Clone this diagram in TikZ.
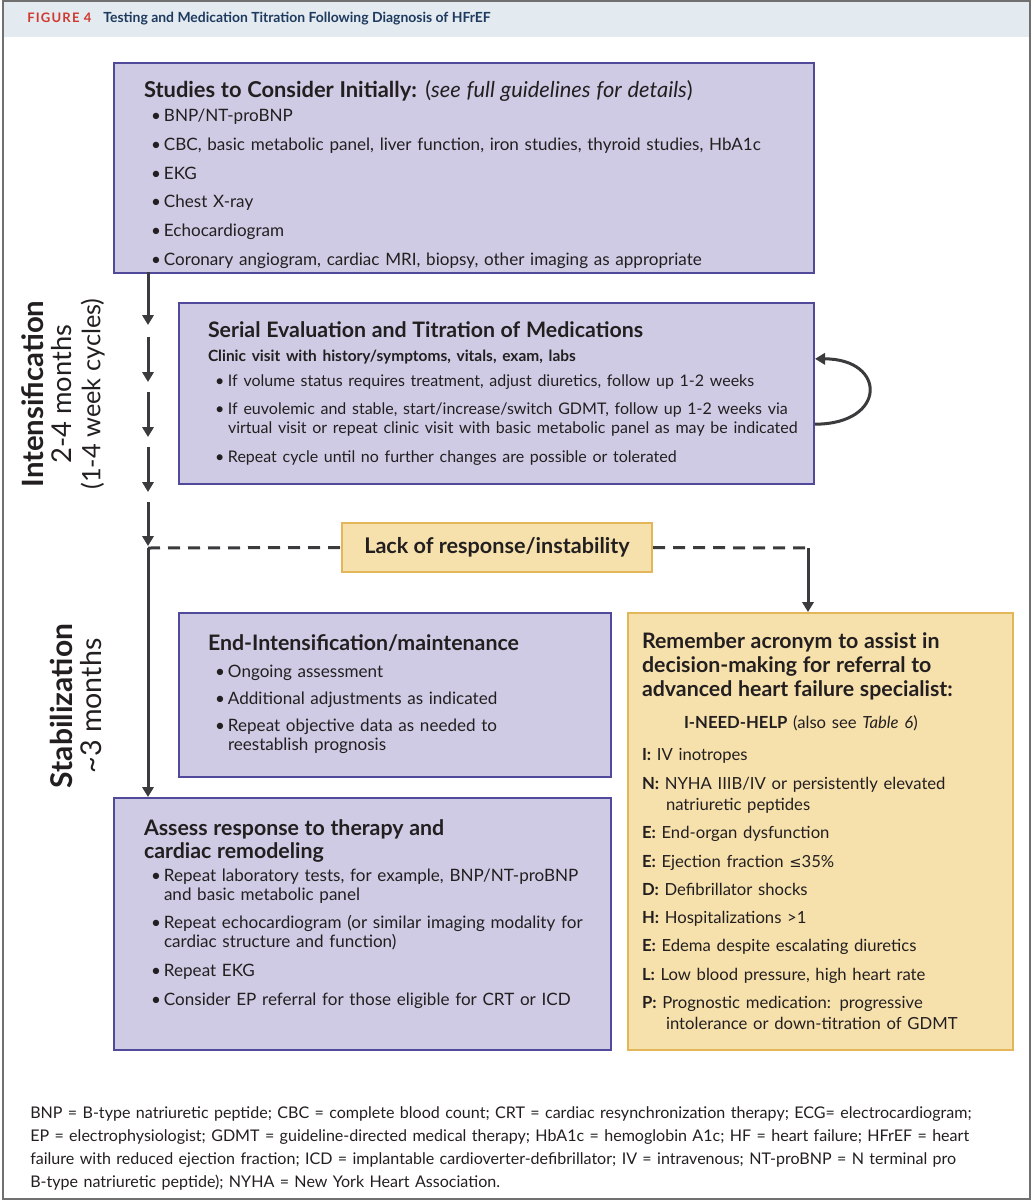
\documentclass[tikz,border=0pt]{standalone}
\usepackage{fontspec}
\setmainfont{Lato}
\newfontfamily\symfont{DejaVu Sans}
\newfontfamily\headfont[LetterSpace=9.0]{Lato}
\usetikzlibrary{arrows.meta, positioning}

\definecolor{boxpurple}{HTML}{CFCBE4}
\definecolor{edgepurple}{HTML}{51499A}
\definecolor{boxgold}{HTML}{F6E1AC}
\definecolor{edgegold}{HTML}{E3B65A}
\definecolor{arrowgray}{HTML}{3B3B3D}
\definecolor{headband}{HTML}{E3EAF0}
\definecolor{headred}{HTML}{D0392F}
\definecolor{headnavy}{HTML}{1E3A5E}
\definecolor{framegray}{HTML}{707070}
\definecolor{inkblack}{HTML}{231F20}

\newcommand{\bodysize}{\fontsize{12.8}{14.25}\selectfont}
\newcommand{\titlesize}{\fontsize{16}{18}\selectfont}
\newcommand{\boxpar}[1]{\setlength{\parindent}{0pt}\setlength{\parskip}{7.35pt}%
  \setlength{\leftskip}{#1}\rightskip=0pt plus 1fil\hyphenpenalty=10000\exhyphenpenalty=10000}
\newcommand{\bul}[1]{\par\hangindent=15pt\hangafter=1\noindent\hspace*{5.25pt}\makebox[9.75pt][l]{\textbullet}#1}
\newcommand{\acr}[2]{\par\hangindent=18pt\hangafter=1\noindent\textbf{#1:} #2}

\tikzset{
  panel/.style = {draw = edgepurple, fill = boxpurple, line width = 1.5pt, anchor = north west,
                  align = left, inner xsep = 3pt, inner ysep = 0pt, text = inkblack, font = \bodysize},
  notepanel/.style = {panel, draw = edgegold, fill = boxgold},
  flow/.style = {arrowgray, line width = 2.25pt, -{Triangle[length=7.5pt, width=8.5pt]}},
  dashline/.style = {arrowgray, line width = 2.25pt, dash pattern = on 9pt off 6pt},
  sidelabel/.style = {rotate = 90, align = center, text = inkblack, font = \fontsize{19}{21.4}\selectfont}
}

\begin{document}
\begin{tikzpicture}[x = 0.75pt, y = -0.75pt]
\useasboundingbox (0,0) rectangle (1034,1200);
% frame and heading
\fill[headband] (3,1) rectangle (1030,37);
\draw[framegray, line width = 1.5pt] (3,1) rectangle (1030,1199);
\node[anchor = west, inner sep = 0pt] (figtitle) at (27,19) {\fontsize{9.8}{11}\headfont\bfseries\color{headred}FIGURE 4\hspace{9pt}\fontsize{10.45}{12}\selectfont\color{headnavy}\addfontfeature{LetterSpace=0}Testing and Medication Titration Following Diagnosis of HFrEF};

% boxes
\node[panel, text width = 519pt, minimum height = 157.5pt] (studies) at (113,62) {\boxpar{19.5pt}%
{\fontsize{16.4}{18}\selectfont\textbf{Studies to Consider Initially:} (\textit{see full guidelines for details})\par}\vspace{-3.6pt}
\bul{BNP/NT-proBNP}
\bul{CBC, basic metabolic panel, liver function, iron studies, thyroid studies, HbA1c}
\bul{EKG}
\bul{Chest X-ray}
\bul{Echocardiogram}
\bul{Coronary angiogram, cardiac MRI, biopsy, other imaging as appropriate}\par\vspace{-10pt}};

\node[panel, text width = 470.25pt, minimum height = 135.75pt] (serial) at (178,302) {\boxpar{18.75pt}\fontsize{12.0}{14.25}\selectfont
{\titlesize\textbf{Serial Evaluation and Titration of Medications}\par}\vspace{-2.35pt}
{\fontsize{11.6}{13}\selectfont\bfseries Clinic visit with history/symptoms, vitals, exam, labs\par}\vspace{-2.85pt}
\bul{If volume status requires treatment, adjust diuretics, follow up 1-2 weeks}
\bul{If euvolemic and stable, start/increase/switch GDMT, follow up 1-2 weeks via\break virtual visit or repeat clinic visit with basic metabolic panel as may be indicated}
\bul{Repeat cycle until no further changes are possible or tolerated}\par};

\node[notepanel, anchor = center, align = center, inner xsep = 0pt, minimum width = 232.5pt, minimum height = 36.75pt,
      font = \fontsize{16.2}{18}\selectfont\bfseries] (lack) at (497,547.5) {Lack of response/instability};

\node[panel, text width = 318pt, minimum height = 123pt] (endint) at (178,612) {\boxpar{18.75pt}\setlength{\parskip}{6pt}%
{\titlesize\textbf{End-Intensification/maintenance}\par}\vspace{0pt}
\bul{Ongoing assessment}
\bul{Additional adjustments as indicated}
\bul{Repeat objective data as needed to\break reestablish prognosis}\par\vspace{2pt}};

\node[panel, text width = 366.75pt, minimum height = 189pt] (assess) at (113,797) {\boxpar{19.5pt}%
{\titlesize\baselineskip=17.25pt\textbf{Assess response to therapy and\break cardiac remodeling}\par}\vspace{-4.35pt}
\bul{Repeat laboratory tests, for example, BNP/NT-proBNP\break and basic metabolic panel}
\bul{Repeat echocardiogram (or similar imaging modality for\break cardiac structure and function)}
\bul{Repeat EKG}
\bul{Consider EP referral for those eligible for CRT or ICD}\par\vspace{15pt}};

\node[notepanel, text width = 282.75pt, minimum height = 327.75pt] (acronym) at (627,612) {\boxpar{7.5pt}\setlength{\parskip}{5.2pt}\fontsize{12.5}{16}\selectfont
{\titlesize\textbf{Remember acronym to assist in\break decision-making for referral to\break advanced heart failure specialist:}\par}\vspace{2.8pt}
\hspace*{31.5pt}\textbf{I-NEED-HELP} (also see \textit{Table 6})\par\vspace{2.8pt}
\acr{I}{IV inotropes}
\acr{N}{NYHA IIIB/IV or persistently elevated\break natriuretic peptides}
\acr{E}{End-organ dysfunction}
\acr{E}{Ejection fraction {\symfont\fontsize{11}{12}\selectfont ≤}35\%}
\acr{D}{Defibrillator shocks}
\acr{H}{Hospitalizations >1}
\acr{E}{Edema despite escalating diuretics}
\acr{L}{Low blood pressure, high heart rate}
\acr{P}{Prognostic medication: progressive\break intolerance or down-titration of GDMT}\par};

% phase labels
\node[sidelabel] (intens) at (63,394) {{\fontsize{22}{21.4}\selectfont\bfseries Intensification}\\{\fontsize{20.5}{21.4}\selectfont 2-4 months}\\(1-4 week cycles)};
\node[sidelabel] (stabil) at (76,706) {{\fontsize{22.5}{21.4}\selectfont\bfseries Stabilization}\\{\fontsize{21.5}{21.4}\selectfont\textasciitilde3 months}};

% cycle arrows down the left
\foreach \i/\a/\b in {1/272/325, 2/337/382, 3/392/437, 4/447/492, 5/502/546} {
  \coordinate (p\i) at (148,\a);
  \coordinate (q\i) at (148,\b);
  \draw[flow] (p\i) -- (q\i);
}
\coordinate (junc) at (148,548);
\coordinate (turn) at (808,548);
\draw[flow] (junc) -- (junc |- assess.north);
\draw[dashline] (junc) -- (lack.west);
\draw[dashline] (lack.east) -- (turn);
\draw[flow] (turn) -- (turn |- acronym.north);

% repeat loop
\coordinate (loopout) at ([yshift=-23pt]serial.east);
\coordinate (loopin) at ([yshift=26pt]serial.east);
\draw[flow] (loopout) .. controls +(54pt,0) and +(54pt,0) .. (loopin);

% abbreviations
\node[anchor = north west, inner sep = 0pt, text width = 760pt, align = left, text = inkblack,
      font = \fontsize{12.05}{17.25}\selectfont] (abbrev) at (30,1106) {%
BNP = B-type natriuretic peptide; CBC = complete blood count; CRT = cardiac resynchronization therapy; ECG= electrocardiogram;\\
EP = electrophysiologist; GDMT = guideline-directed medical therapy; HbA1c = hemoglobin A1c; HF = heart failure; HFrEF = heart\\
failure with reduced ejection fraction; ICD = implantable cardioverter-defibrillator; IV = intravenous; NT-proBNP = N terminal pro\\
B-type natriuretic peptide); NYHA = New York Heart Association.};
\end{tikzpicture}
\end{document}
